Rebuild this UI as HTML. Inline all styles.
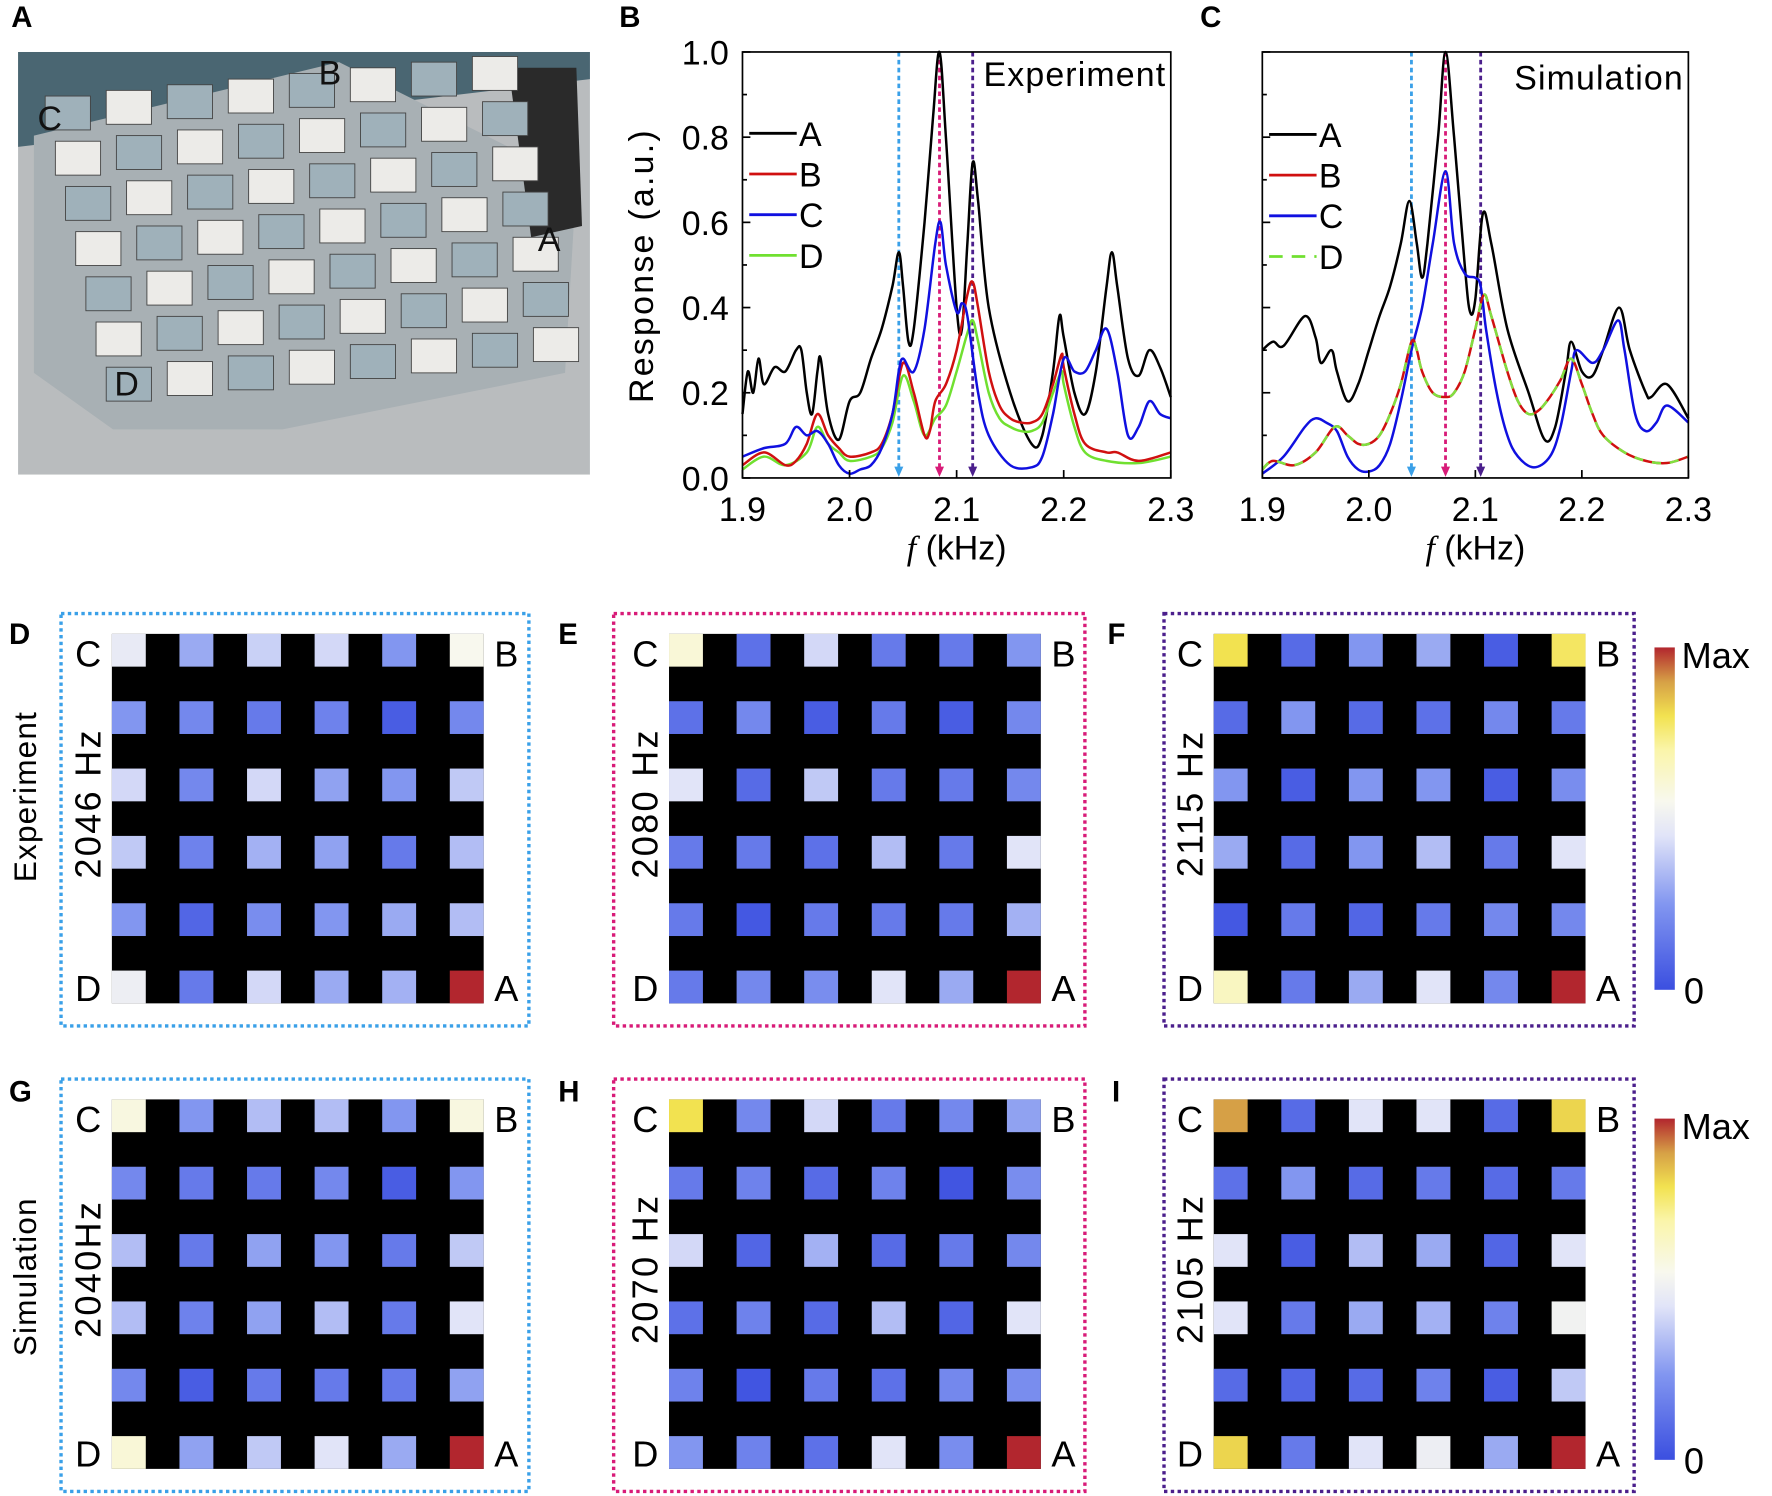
<!DOCTYPE html>
<html><head><meta charset="utf-8"><style>html,body{margin:0;padding:0;background:#fff}svg{display:block}text{font-family:"Liberation Sans",sans-serif}</style></head>
<body>
<svg id="fig" xmlns="http://www.w3.org/2000/svg" width="1772" height="1496" viewBox="0 0 1568 1324" preserveAspectRatio="none">
<g id="photo"></g>
<g id="charts"></g>
<g id="maps"></g>
</svg>
<script>
// ---- Line chart data ----
const expA_x=[1.9,1.905,1.91,1.915,1.92,1.93,1.94,1.95,1.955,1.96,1.965,1.97,1.973,1.98,1.99,2.0,2.01,2.02,2.03,2.04,2.046,2.05,2.055,2.06,2.07,2.078,2.084,2.09,2.1,2.105,2.11,2.115,2.12,2.13,2.15,2.17,2.18,2.19,2.196,2.2,2.21,2.22,2.23,2.24,2.245,2.25,2.26,2.27,2.28,2.29,2.3];
const expA_y=[0.15,0.25,0.2,0.28,0.22,0.26,0.25,0.3,0.3,0.2,0.15,0.25,0.28,0.15,0.09,0.18,0.2,0.28,0.35,0.45,0.53,0.45,0.32,0.35,0.6,0.85,1.0,0.8,0.4,0.35,0.55,0.74,0.65,0.4,0.2,0.08,0.1,0.25,0.38,0.33,0.2,0.15,0.25,0.45,0.53,0.45,0.28,0.24,0.3,0.26,0.19];
const expB_x=[1.9,1.92,1.94,1.95,1.96,1.97,1.98,1.99,2.0,2.02,2.03,2.04,2.05,2.06,2.07,2.075,2.08,2.09,2.1,2.11,2.115,2.12,2.13,2.14,2.15,2.16,2.17,2.18,2.19,2.198,2.2,2.21,2.22,2.24,2.25,2.27,2.3];
const expB_y=[0.03,0.06,0.03,0.04,0.08,0.15,0.1,0.07,0.05,0.06,0.08,0.15,0.27,0.2,0.1,0.11,0.18,0.22,0.3,0.43,0.46,0.4,0.25,0.17,0.14,0.13,0.13,0.15,0.22,0.29,0.26,0.15,0.08,0.06,0.06,0.04,0.06];
const expC_x=[1.9,1.92,1.94,1.95,1.96,1.97,1.98,1.99,2.0,2.01,2.02,2.03,2.04,2.046,2.05,2.06,2.07,2.08,2.085,2.09,2.1,2.105,2.11,2.12,2.13,2.15,2.17,2.18,2.19,2.2,2.21,2.22,2.23,2.24,2.25,2.26,2.27,2.28,2.29,2.3];
const expC_y=[0.05,0.07,0.08,0.12,0.1,0.11,0.08,0.03,0.01,0.02,0.03,0.07,0.15,0.25,0.28,0.25,0.35,0.55,0.6,0.5,0.39,0.41,0.38,0.2,0.1,0.03,0.025,0.05,0.15,0.28,0.25,0.25,0.3,0.35,0.25,0.1,0.12,0.18,0.15,0.14];
const expD_x=[1.9,1.92,1.94,1.96,1.97,1.98,1.99,2.0,2.02,2.03,2.04,2.05,2.06,2.07,2.08,2.09,2.1,2.11,2.115,2.12,2.13,2.14,2.15,2.16,2.17,2.18,2.19,2.198,2.2,2.21,2.22,2.24,2.27,2.3];
const expD_y=[0.02,0.05,0.03,0.06,0.12,0.08,0.06,0.04,0.05,0.07,0.13,0.24,0.18,0.1,0.14,0.17,0.25,0.34,0.37,0.32,0.2,0.14,0.12,0.11,0.11,0.13,0.2,0.25,0.22,0.12,0.06,0.04,0.035,0.05];
const simA_x=[1.9,1.91,1.92,1.94,1.95,1.955,1.965,1.97,1.98,1.99,2.0,2.01,2.02,2.03,2.038,2.045,2.05,2.055,2.065,2.072,2.08,2.09,2.095,2.1,2.107,2.115,2.13,2.15,2.165,2.175,2.185,2.19,2.2,2.21,2.22,2.235,2.245,2.26,2.265,2.28,2.3];
const simA_y=[0.3,0.32,0.31,0.38,0.33,0.27,0.3,0.25,0.18,0.22,0.3,0.38,0.45,0.55,0.65,0.55,0.47,0.55,0.8,1.0,0.8,0.5,0.39,0.42,0.62,0.55,0.35,0.2,0.09,0.12,0.25,0.32,0.25,0.24,0.3,0.4,0.3,0.2,0.19,0.22,0.14];
const simBD_x=[1.9,1.91,1.93,1.95,1.968,1.98,1.99,2.0,2.01,2.02,2.03,2.04,2.045,2.05,2.06,2.072,2.08,2.09,2.1,2.108,2.115,2.13,2.14,2.15,2.16,2.17,2.18,2.19,2.2,2.21,2.22,2.24,2.26,2.28,2.3];
const simBD_y=[0.02,0.04,0.03,0.06,0.12,0.1,0.08,0.08,0.1,0.15,0.22,0.32,0.3,0.25,0.2,0.19,0.2,0.25,0.35,0.43,0.38,0.25,0.18,0.15,0.16,0.19,0.23,0.28,0.22,0.15,0.1,0.06,0.04,0.035,0.05];
const simC_x=[1.9,1.92,1.94,1.95,1.96,1.97,1.98,1.99,2.0,2.01,2.02,2.03,2.04,2.05,2.06,2.072,2.08,2.09,2.1,2.105,2.11,2.12,2.13,2.14,2.155,2.17,2.18,2.19,2.195,2.21,2.22,2.234,2.24,2.25,2.26,2.27,2.28,2.3];
const simC_y=[0.01,0.05,0.12,0.14,0.13,0.11,0.05,0.02,0.015,0.03,0.08,0.18,0.3,0.4,0.55,0.72,0.55,0.48,0.47,0.45,0.35,0.2,0.1,0.05,0.025,0.05,0.12,0.25,0.3,0.27,0.3,0.37,0.3,0.15,0.11,0.13,0.17,0.13];
const xTicks=[1.9,2.0,2.1,2.2,2.3];
const yTicks=[0.0,0.2,0.4,0.6,0.8,1.0];
const markersExp=[2.046,2.084,2.115];
const markersSim=[2.04,2.072,2.105];
// ---- Heatmap data (0 = min, 1 = max), rows top (C..B) to bottom (D..A) ----
const mapD=[[0.48,0.3,0.4,0.42,0.25,0.55],[0.25,0.2,0.15,0.18,0.05,0.2],[0.42,0.2,0.42,0.28,0.25,0.38],[0.38,0.18,0.32,0.28,0.15,0.35],[0.25,0.08,0.22,0.25,0.3,0.35],[0.5,0.15,0.42,0.3,0.32,1.0]];
const mapE=[[0.6,0.12,0.42,0.15,0.15,0.25],[0.12,0.2,0.05,0.15,0.05,0.2],[0.45,0.1,0.38,0.15,0.15,0.2],[0.15,0.15,0.12,0.35,0.15,0.45],[0.15,0.03,0.15,0.15,0.15,0.32],[0.15,0.2,0.22,0.45,0.3,1.0]];
const mapF=[[0.8,0.1,0.25,0.3,0.05,0.78],[0.1,0.25,0.1,0.12,0.2,0.15],[0.25,0.05,0.25,0.25,0.05,0.22],[0.3,0.1,0.25,0.35,0.15,0.45],[0.03,0.15,0.08,0.15,0.2,0.2],[0.65,0.15,0.3,0.45,0.2,1.0]];
const mapG=[[0.58,0.25,0.35,0.35,0.25,0.58],[0.2,0.15,0.15,0.2,0.05,0.25],[0.35,0.15,0.28,0.25,0.15,0.38],[0.35,0.18,0.28,0.35,0.15,0.45],[0.2,0.05,0.15,0.15,0.15,0.28],[0.6,0.28,0.38,0.45,0.3,1.0]];
const mapH=[[0.8,0.2,0.42,0.15,0.2,0.28],[0.15,0.18,0.1,0.18,0.02,0.22],[0.42,0.08,0.32,0.1,0.15,0.2],[0.12,0.18,0.1,0.35,0.08,0.45],[0.18,0.02,0.15,0.12,0.2,0.22],[0.25,0.18,0.12,0.45,0.22,1.0]];
const mapI=[[0.9,0.1,0.45,0.45,0.1,0.82],[0.12,0.25,0.1,0.15,0.1,0.15],[0.45,0.05,0.35,0.3,0.08,0.45],[0.45,0.15,0.3,0.32,0.18,0.52],[0.1,0.08,0.1,0.18,0.05,0.38],[0.82,0.15,0.45,0.5,0.3,1.0]];
const mapLabels=["2046 Hz","2080 Hz","2115 Hz","2040Hz","2070 Hz","2105 Hz"];

const NS="http://www.w3.org/2000/svg";
function mk(tag,attrs,parent,txt){const e=document.createElementNS(NS,tag);for(const k in attrs)e.setAttribute(k,attrs[k]);if(txt!==undefined)e.textContent=txt;parent.appendChild(e);return e;}
const svg=document.getElementById('fig');

// ---- Photo (panel A) ----
const ph=document.getElementById('photo');
mk('rect',{x:16,y:46,width:506,height:374,fill:'#b9bcbe'},ph);
mk('polygon',{points:'16,46 522,46 522,70 16,130',fill:'#4a6672'},ph);
mk('polygon',{points:'30,120 300,55 510,160 500,330 250,380 100,380 30,330',fill:'#a8b0b4'},ph);
mk('polygon',{points:'450,60 510,60 515,200 470,210',fill:'#2a2a2a'},ph);
for(let r=0;r<7;r++){for(let c=0;c<8;c++){
 const x=40+c*54+r*9, y=85+r*40-c*5;
 const b=mk('rect',{x:x,y:y,width:40,height:30,fill:((r+c)%2?'#ecebe8':'#9fb1ba'),stroke:'#444','stroke-width':0.8},ph);
 
 
}}
[["C",44,115],["B",292,75],["A",486,222],["D",112,350]].forEach(([t,x,y])=>{const e=mk('text',{x:x,y:y,'font-size':30,'text-anchor':'middle',fill:'#111'},ph,t);});

// panel letters
[["A",10,24],["B",548,24],["C",1062,24],["D",8,570],["E",494,570],["F",980,570],["G",8,975],["H",494,975],["I",984,975]].forEach(([t,x,y])=>{const e=mk('text',{x:x,y:y,'font-size':26,'font-weight':'bold'},svg,t);});

// ---- Line charts ----
const charts=document.getElementById('charts');
function smoothPath(P){
 let d='M'+P[0][0].toFixed(1)+','+P[0][1].toFixed(1);
 for(let i=0;i<P.length-1;i++){
  const p0=P[Math.max(0,i-1)],p1=P[i],p2=P[i+1],p3=P[Math.min(P.length-1,i+2)];
  const c1=[p1[0]+(p2[0]-p0[0])/6,p1[1]+(p2[1]-p0[1])/6];
  const c2=[p2[0]-(p3[0]-p1[0])/6,p2[1]-(p3[1]-p1[1])/6];
  d+='C'+c1[0].toFixed(1)+','+c1[1].toFixed(1)+' '+c2[0].toFixed(1)+','+c2[1].toFixed(1)+' '+p2[0].toFixed(1)+','+p2[1].toFixed(1);
 }
 return d;
}
function chart(x0,x1,title,series,markers,showY,legendDashD){
 const y0=46,y1=423;
 const sx=v=>x0+(v-1.9)/0.4*(x1-x0);
 const sy=v=>y1-v*(y1-y0);
 const g=mk('g',{},charts);
 
 
 const mcol=['#3aa0e8','#d81b78','#4b1f8c'];
 markers.forEach((m,i)=>{
  const l=mk('line',{x1:sx(m),x2:sx(m),y1:y0,y2:y1-8,stroke:mcol[i],'stroke-width':2.5,'stroke-dasharray':'4,3'},g);
  
  
  mk('polygon',{points:`${sx(m)-4},${y1-10} ${sx(m)+4},${y1-10} ${sx(m)},${y1-1}`,fill:mcol[i]},g);
 });
 series.forEach(s=>{
  const p=smoothPath(s.xs.map((v,i)=>[sx(v),sy(s.ys[i])]));
  const e=mk('path',{d:p,fill:'none',stroke:s.c,'stroke-width':2.2,'stroke-linejoin':'round'},g);
  
  
  if(s.dash){const d=mk('path',{d:p,fill:'none',stroke:s.dash,'stroke-width':2.2,'stroke-dasharray':'8,8'},g);}
 });
 const box=mk('rect',{x:x0,y:y0,width:x1-x0,height:y1-y0,fill:'none',stroke:'#000','stroke-width':1.5},g);
 
 
 xTicks.forEach(t=>{mk('line',{x1:sx(t),x2:sx(t),y1:y1,y2:y1-7,stroke:'#000','stroke-width':1.5},g);
  const e=mk('text',{x:sx(t),y:461,'font-size':30,'text-anchor':'middle'},g,t.toFixed(1));});
 for(let v=0;v<=1.001;v+=0.1){mk('line',{x1:x0,x2:x0+(Math.round(v*10)%2?4:7),y1:sy(v),y2:sy(v),stroke:'#000','stroke-width':1.5},g);}
 if(showY){yTicks.forEach(t=>{const e=mk('text',{x:x0-12,y:sy(t)+11,'font-size':30,'text-anchor':'end'},g,t.toFixed(1));});
  const yt=mk('text',{x:0,y:0,'font-size':30,'text-anchor':'middle',transform:`translate(578,235) rotate(-90)`,'letter-spacing':'2'},g,'Response (a.u.)');}
 const xt=mk('text',{x:(x0+x1)/2,y:495,'font-size':30,'text-anchor':'middle'},g);
 
 mk('tspan',{'font-family':'"Liberation Serif",serif','font-style':'italic'},xt,'f');
 mk('tspan',{},xt,' (kHz)');
 const tt=mk('text',{x:x1-4,y:title==='Experiment'?76:79,'font-size':30,'text-anchor':'end','letter-spacing':'1'},g,title);
 
 const lc=[['A','#000'],['B','#d01010'],['C','#1010e0'],['D','#70e030']];
 lc.forEach(([n,c],i)=>{const yy=118+i*36+(title==='Experiment'?0:1);
  const ll=mk('line',{x1:x0+6,x2:x0+48,y1:yy,y2:yy,stroke:c,'stroke-width':2.5},g);
  if(n==='D'&&legendDashD){ll.setAttribute('stroke-dasharray','12,8');}
  
  const lt=mk('text',{x:x0+50,y:yy+11,'font-size':30},g,n);});
}
chart(657,1036,'Experiment',[{n:'a',xs:expA_x,ys:expA_y,c:'#000'},{n:'d',xs:expD_x,ys:expD_y,c:'#70e030'},{n:'b',xs:expB_x,ys:expB_y,c:'#d01010'},{n:'c',xs:expC_x,ys:expC_y,c:'#1010e0'}],markersExp,true,false);
chart(1117,1494,'Simulation',[{n:'a',xs:simA_x,ys:simA_y,c:'#000'},{n:'c',xs:simC_x,ys:simC_y,c:'#1010e0'},{n:'bd',xs:simBD_x,ys:simBD_y,c:'#d01010',dash:'#80e040'}],markersSim,false,true);

// ---- Heatmaps ----
const stops=[[0,[59,79,224]],[0.25,[130,150,240]],[0.45,[225,228,248]],[0.55,[248,248,238]],[0.7,[250,245,170]],[0.8,[242,226,80]],[0.9,[214,160,70]],[1,[178,38,46]]];
function cmap(v){for(let i=1;i<stops.length;i++){if(v<=stops[i][0]){const a=stops[i-1],b=stops[i],t=(v-a[0])/(b[0]-a[0]);return 'rgb('+a[1].map((c,k)=>Math.round(c+(b[1][k]-c)*t)).join(',')+')';}}return 'rgb(178,38,46)';}
const maps=document.getElementById('maps');
const mapsData=[mapD,mapE,mapF,mapG,mapH,mapI];
const gx=[99,592,1074], bx=[54,543,1030], bw=[414,417,416], gy=[561,973], byy=[543,955];
const bcol=['#3aa0e8','#d81b78','#4b1f8c'];
mapsData.forEach((m,k)=>{
 const col=k%3,row=Math.floor(k/3);
 const g=mk('g',{},maps);
 
 
 const fr=mk('rect',{x:bx[col],y:byy[row],width:bw[col],height:365,fill:'none',stroke:bcol[col],'stroke-width':3,'stroke-dasharray':'3,3'},g);
 
 const X=gx[col],Y=gy[row];
 mk('rect',{x:X,y:Y,width:329,height:327,fill:'#000'},g);
 m.forEach((r,ri)=>r.forEach((v,ci)=>{
  const c=mk('rect',{x:X+ci*59.8,y:Y+ri*59.6,width:30,height:29,fill:cmap(v)},g);
  
  
 }));
 [['C',X-21,Y+29],['B',X+349,Y+29],['D',X-21,Y+325],['A',X+349,Y+325]].forEach(([t,x,y])=>{const e=mk('text',{x:x,y:y,'font-size':32,'text-anchor':'middle'},g,t);});
 const fl=mk('text',{x:0,y:0,'font-size':32,'text-anchor':'middle','font-family':'"Liberation Serif",serif',transform:`translate(${X-10},${Y+150}) rotate(-90)`,'letter-spacing':'2'},g,mapLabels[k]);
 
});
// row titles
[['Experiment',705],['Simulation',1130]].forEach(([t,y])=>{const e=mk('text',{x:0,y:0,'font-size':28,'text-anchor':'middle',transform:`translate(32,${y}) rotate(-90)`,'letter-spacing':'1'},svg,t);});
// colorbars
const defs=mk('defs',{},svg);
const lg=mk('linearGradient',{id:'cb',x1:0,y1:1,x2:0,y2:0},defs);
stops.forEach(s=>mk('stop',{offset:s[0],'stop-color':'rgb('+s[1].join(',')+')'},lg));
[[573,876],[990,1292]].forEach(([a,b],i)=>{
 const r=mk('rect',{x:1464,y:a,width:18,height:b-a,fill:'url(#cb)'},svg);
 
 const mx=mk('text',{x:1488,y:a+18,'font-size':32,'font-family':'"Liberation Serif",serif'},svg,'Max');
 const z=mk('text',{x:1490,y:b+12,'font-size':32,'font-family':'"Liberation Serif",serif'},svg,'0');
});
</script>
</body></html>
